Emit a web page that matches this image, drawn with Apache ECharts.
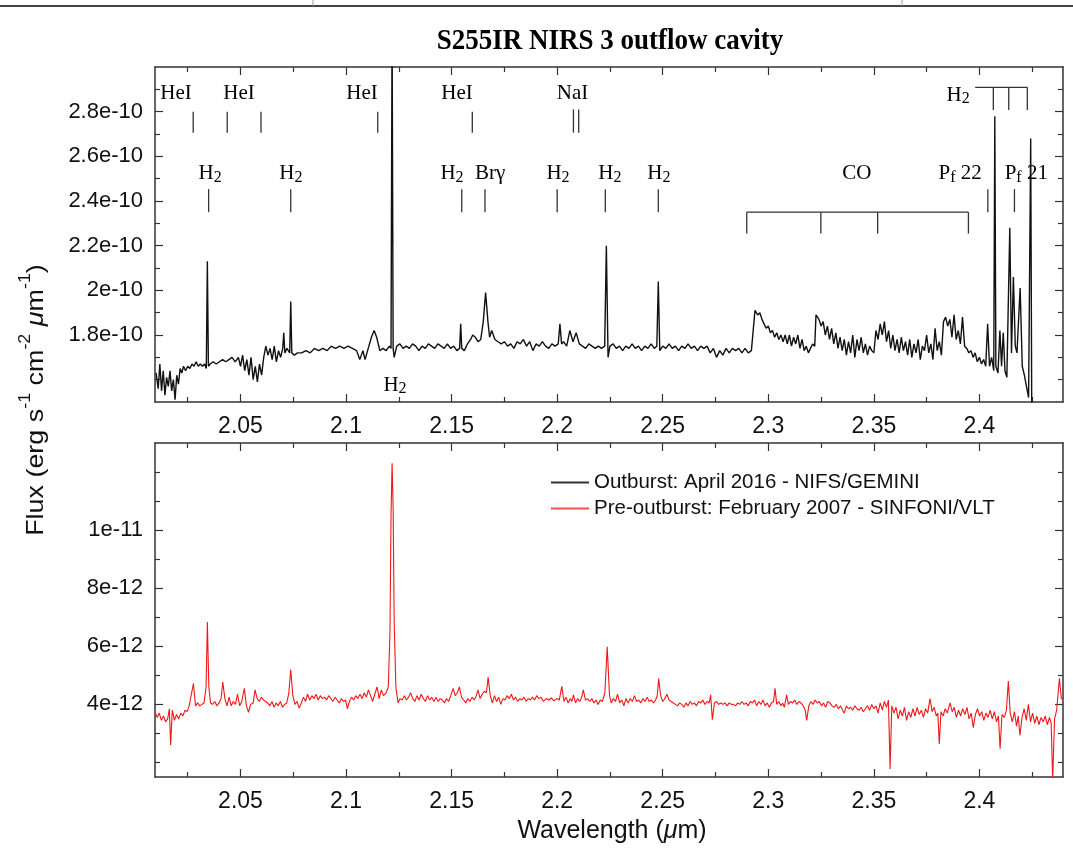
<!DOCTYPE html>
<html><head><meta charset="utf-8">
<script src="https://cdn.jsdelivr.net/npm/echarts@6/dist/echarts.min.js"></script>
<style>html,body{margin:0;padding:0;background:#fff}#c{width:1073px;height:860px}</style>
</head><body><div id="c"></div><script>
// ---------- axis ticks / labels ----------
const xMajor = [2.05, 2.1, 2.15, 2.2, 2.25, 2.3, 2.35, 2.4];
const xMinor = [2.025, 2.075, 2.125, 2.175, 2.225, 2.275, 2.325, 2.375, 2.425];
const topYMajor = [1.8, 2.0, 2.2, 2.4, 2.6, 2.8];            // ×1e-10
const topYMinor = [1.6, 1.7, 1.9, 2.1, 2.3, 2.5, 2.7, 2.9];
const botYMajor = [4, 6, 8, 10];                               // ×1e-12
const botYMinor = [2, 3, 5, 7, 9, 11, 12];

// ---------- spectra ----------
// Outburst, April 2016 (NIFS/GEMINI): [wavelength µm, flux ×1e-10]
const outburst = [
[2.0100,1.63],[2.0110,1.56],[2.0118,1.67],[2.0126,1.55],[2.0134,1.64],[2.0142,1.53],[2.0150,1.61],[2.0158,1.57],[2.0166,1.64],[2.0174,1.55],
[2.0182,1.60],[2.0190,1.51],[2.0198,1.62],[2.0206,1.58],[2.0214,1.65],[2.0222,1.63],[2.0230,1.66],[2.0240,1.64],[2.0250,1.66],[2.0260,1.65],
[2.0270,1.67],[2.0280,1.66],[2.0290,1.68],[2.0300,1.66],[2.0310,1.67],[2.0320,1.66],[2.0330,1.67],[2.0338,1.65],[2.0343,2.13],[2.0348,1.66],
[2.0356,1.67],[2.0370,1.68],[2.0385,1.67],[2.0400,1.68],[2.0415,1.69],[2.0430,1.68],[2.0445,1.69],[2.0460,1.70],[2.0475,1.68],[2.0490,1.70],
[2.0500,1.66],[2.0510,1.71],[2.0520,1.64],[2.0530,1.69],[2.0540,1.62],[2.0550,1.70],[2.0560,1.60],[2.0570,1.66],[2.0580,1.59],[2.0590,1.67],
[2.0600,1.62],[2.0610,1.70],[2.0620,1.75],[2.0630,1.71],[2.0640,1.74],[2.0650,1.69],[2.0660,1.75],[2.0670,1.68],[2.0680,1.73],[2.0690,1.70],
[2.0700,1.74],[2.0705,1.81],[2.0710,1.72],[2.0720,1.74],[2.0733,1.72],[2.0738,1.95],[2.0743,1.72],[2.0755,1.71],[2.0770,1.72],[2.0790,1.72],
[2.0810,1.73],[2.0830,1.72],[2.0850,1.74],[2.0870,1.73],[2.0890,1.74],[2.0910,1.73],[2.0930,1.75],[2.0950,1.74],[2.0970,1.75],[2.0990,1.74],
[2.1010,1.75],[2.1030,1.74],[2.1050,1.73],[2.1065,1.69],[2.1080,1.73],[2.1090,1.69],[2.1105,1.74],[2.1120,1.79],[2.1133,1.82],[2.1145,1.79],
[2.1160,1.73],[2.1175,1.74],[2.1190,1.73],[2.1205,1.75],[2.1213,1.74],[2.1218,3.20],[2.1223,1.74],[2.1228,1.70],[2.1240,1.75],[2.1255,1.76],
[2.1270,1.74],[2.1285,1.75],[2.1300,1.74],[2.1315,1.76],[2.1330,1.75],[2.1345,1.73],[2.1360,1.75],[2.1375,1.74],[2.1390,1.76],[2.1405,1.75],
[2.1420,1.74],[2.1435,1.76],[2.1450,1.75],[2.1465,1.74],[2.1480,1.76],[2.1495,1.74],[2.1510,1.75],[2.1525,1.73],[2.1538,1.74],[2.1543,1.85],
[2.1548,1.74],[2.1560,1.73],[2.1575,1.76],[2.1590,1.78],[2.1600,1.80],[2.1612,1.79],[2.1625,1.77],[2.1638,1.78],[2.1650,1.86],[2.1661,1.99],
[2.1672,1.86],[2.1680,1.79],[2.1690,1.82],[2.1705,1.78],[2.1720,1.77],[2.1735,1.76],[2.1750,1.77],[2.1765,1.75],[2.1780,1.76],[2.1795,1.74],
[2.1810,1.77],[2.1825,1.76],[2.1840,1.78],[2.1855,1.75],[2.1870,1.77],[2.1885,1.73],[2.1900,1.76],[2.1915,1.75],[2.1930,1.77],[2.1945,1.75],
[2.1960,1.74],[2.1975,1.76],[2.1990,1.75],[2.2005,1.76],[2.2013,1.85],[2.2021,1.76],[2.2030,1.77],[2.2045,1.75],[2.2060,1.82],[2.2075,1.77],
[2.2090,1.81],[2.2105,1.76],[2.2120,1.75],[2.2135,1.74],[2.2150,1.76],[2.2165,1.75],[2.2180,1.74],[2.2195,1.75],[2.2210,1.74],[2.2225,1.75],
[2.2233,2.20],[2.2241,1.70],[2.2250,1.75],[2.2265,1.76],[2.2280,1.74],[2.2295,1.75],[2.2310,1.73],[2.2325,1.75],[2.2340,1.74],[2.2355,1.76],
[2.2370,1.74],[2.2385,1.75],[2.2400,1.73],[2.2415,1.75],[2.2430,1.74],[2.2445,1.76],[2.2460,1.74],[2.2472,1.75],[2.2479,2.04],[2.2486,1.73],
[2.2500,1.75],[2.2515,1.74],[2.2530,1.76],[2.2545,1.74],[2.2560,1.75],[2.2575,1.73],[2.2590,1.75],[2.2605,1.74],[2.2620,1.76],[2.2635,1.74],
[2.2650,1.75],[2.2665,1.73],[2.2680,1.75],[2.2695,1.74],[2.2710,1.75],[2.2725,1.72],[2.2740,1.74],[2.2755,1.70],[2.2770,1.73],[2.2785,1.71],
[2.2800,1.74],[2.2815,1.72],[2.2830,1.74],[2.2845,1.73],[2.2860,1.74],[2.2875,1.72],[2.2890,1.74],[2.2905,1.72],[2.2920,1.73],[2.2937,1.91],
[2.2950,1.89],[2.2960,1.90],[2.2970,1.87],[2.2980,1.85],[2.2990,1.83],[2.3000,1.84],[2.3010,1.81],[2.3020,1.82],[2.3030,1.79],[2.3040,1.81],
[2.3050,1.78],[2.3060,1.80],[2.3070,1.77],[2.3080,1.80],[2.3090,1.76],[2.3100,1.80],[2.3110,1.75],[2.3120,1.79],[2.3130,1.76],[2.3140,1.80],
[2.3150,1.74],[2.3160,1.78],[2.3170,1.73],[2.3180,1.75],[2.3190,1.72],[2.3200,1.74],[2.3210,1.76],[2.3220,1.75],[2.3226,1.89],[2.3240,1.87],
[2.3250,1.84],[2.3260,1.86],[2.3270,1.80],[2.3280,1.84],[2.3290,1.78],[2.3300,1.83],[2.3310,1.76],[2.3320,1.81],[2.3330,1.74],[2.3340,1.79],
[2.3350,1.73],[2.3360,1.78],[2.3370,1.71],[2.3380,1.77],[2.3390,1.72],[2.3400,1.80],[2.3410,1.70],[2.3420,1.78],[2.3430,1.73],[2.3440,1.79],
[2.3450,1.72],[2.3460,1.76],[2.3470,1.71],[2.3480,1.75],[2.3490,1.73],[2.3500,1.72],[2.3510,1.82],[2.3520,1.78],[2.3530,1.85],[2.3540,1.80],
[2.3550,1.86],[2.3560,1.77],[2.3570,1.82],[2.3580,1.74],[2.3590,1.80],[2.3600,1.73],[2.3610,1.78],[2.3620,1.72],[2.3630,1.79],[2.3640,1.73],
[2.3650,1.77],[2.3660,1.71],[2.3670,1.78],[2.3680,1.70],[2.3690,1.76],[2.3700,1.72],[2.3710,1.78],[2.3720,1.69],[2.3730,1.75],[2.3740,1.73],
[2.3750,1.80],[2.3760,1.72],[2.3770,1.76],[2.3780,1.69],[2.3790,1.83],[2.3800,1.73],[2.3810,1.77],[2.3820,1.71],[2.3830,1.86],[2.3840,1.88],
[2.3850,1.84],[2.3860,1.87],[2.3870,1.79],[2.3880,1.89],[2.3890,1.78],[2.3900,1.82],[2.3910,1.76],[2.3920,1.88],[2.3930,1.75],[2.3940,1.74],
[2.3950,1.72],[2.3960,1.73],[2.3970,1.70],[2.3980,1.72],[2.3990,1.68],[2.4000,1.70],[2.4010,1.67],[2.4020,1.69],[2.4030,1.66],[2.4039,1.85],
[2.4048,1.66],[2.4058,1.70],[2.4068,1.64],[2.4073,2.78],[2.4078,1.66],[2.4088,1.63],[2.4097,1.82],[2.4105,1.66],[2.4113,1.81],[2.4121,1.64],
[2.4130,1.61],[2.4144,2.28],[2.4152,1.72],[2.4161,2.06],[2.4170,1.75],[2.4178,1.72],[2.4193,2.01],[2.4203,1.66],[2.4213,1.62],[2.4223,1.57],
[2.4233,1.52],[2.4243,2.68],[2.4248,1.45]
];
// Pre-outburst, February 2007 (SINFONI/VLT): [wavelength µm, flux ×1e-12]
const preOutburst = [
[2.0095,3.75],[2.0105,3.55],[2.0115,3.70],[2.0125,3.45],[2.0135,3.60],[2.0145,3.40],[2.0155,3.50],[2.0163,3.85],[2.0169,2.60],[2.0177,3.80],
[2.0187,3.45],[2.0197,3.65],[2.0207,3.50],[2.0217,3.70],[2.0227,3.60],[2.0237,3.80],[2.0247,3.75],[2.0257,3.95],[2.0265,3.90],[2.0277,4.72],
[2.0287,3.95],[2.0297,4.05],[2.0307,3.95],[2.0317,4.00],[2.0327,4.05],[2.0337,4.60],[2.0343,6.84],[2.0350,4.60],[2.0358,4.05],[2.0368,4.00],
[2.0378,4.10],[2.0388,3.95],[2.0398,4.05],[2.0408,4.20],[2.0416,4.77],[2.0426,4.20],[2.0436,3.95],[2.0446,4.25],[2.0456,3.95],[2.0466,4.10],
[2.0476,4.00],[2.0486,4.35],[2.0496,3.95],[2.0506,4.10],[2.0518,4.55],[2.0528,3.95],[2.0538,3.73],[2.0548,4.00],[2.0560,4.05],[2.0569,4.50],
[2.0579,4.20],[2.0589,4.10],[2.0599,4.25],[2.0609,4.15],[2.0619,4.10],[2.0629,4.05],[2.0639,3.95],[2.0649,4.10],[2.0659,3.90],[2.0669,4.05],
[2.0679,3.95],[2.0689,4.10],[2.0699,3.90],[2.0709,4.00],[2.0719,4.05],[2.0729,4.40],[2.0738,5.20],[2.0748,4.30],[2.0758,4.00],[2.0768,4.10],
[2.0778,3.87],[2.0788,4.05],[2.0798,4.25],[2.0808,4.10],[2.0818,4.35],[2.0828,4.15],[2.0838,4.30],[2.0848,4.20],[2.0858,4.35],[2.0868,4.15],
[2.0878,4.30],[2.0888,4.20],[2.0898,4.25],[2.0908,4.15],[2.0918,4.30],[2.0928,4.20],[2.0938,4.10],[2.0948,4.25],[2.0958,4.15],[2.0968,4.05],
[2.0978,4.20],[2.0988,4.10],[2.0998,4.15],[2.1006,3.85],[2.1016,4.10],[2.1026,4.25],[2.1036,4.15],[2.1046,4.30],[2.1056,4.20],[2.1066,4.35],
[2.1076,4.20],[2.1086,4.40],[2.1096,4.25],[2.1106,4.50],[2.1116,4.30],[2.1126,4.10],[2.1136,4.35],[2.1147,4.60],[2.1157,4.20],[2.1167,4.50],
[2.1177,4.30],[2.1190,4.40],[2.1200,4.60],[2.1208,6.50],[2.1213,10.5],[2.1218,12.3],[2.1223,10.8],[2.1228,6.80],[2.1236,4.60],[2.1246,4.05],
[2.1256,4.20],[2.1266,4.15],[2.1276,4.30],[2.1286,4.15],[2.1296,4.25],[2.1306,4.40],[2.1316,4.20],[2.1326,4.10],[2.1336,4.30],[2.1346,4.15],
[2.1356,4.35],[2.1366,4.20],[2.1376,4.10],[2.1386,4.30],[2.1396,4.15],[2.1406,4.25],[2.1416,4.10],[2.1426,4.25],[2.1436,4.10],[2.1446,4.20],
[2.1456,4.15],[2.1466,4.05],[2.1476,4.20],[2.1486,4.10],[2.1496,4.30],[2.1507,4.55],[2.1517,4.30],[2.1527,4.40],[2.1537,4.60],[2.1547,4.25],
[2.1557,4.15],[2.1567,4.05],[2.1577,4.20],[2.1587,4.10],[2.1597,4.25],[2.1607,4.15],[2.1617,4.30],[2.1625,4.50],[2.1635,4.20],[2.1645,4.35],
[2.1655,4.45],[2.1665,4.40],[2.1673,4.93],[2.1683,4.30],[2.1693,4.05],[2.1703,4.30],[2.1713,4.10],[2.1723,4.25],[2.1733,4.00],[2.1743,4.20],
[2.1753,4.15],[2.1763,4.30],[2.1773,4.20],[2.1783,4.35],[2.1793,4.15],[2.1803,4.25],[2.1813,4.10],[2.1823,4.20],[2.1833,4.15],[2.1843,4.25],
[2.1853,4.10],[2.1863,4.20],[2.1873,4.15],[2.1883,4.25],[2.1893,4.15],[2.1903,4.30],[2.1913,4.20],[2.1923,4.25],[2.1935,4.10],[2.1948,4.20],
[2.1960,4.15],[2.1972,4.22],[2.1985,4.12],[2.1998,4.20],[2.2010,4.15],[2.2022,4.62],[2.2032,4.10],[2.2042,4.25],[2.2052,4.05],[2.2062,4.20],
[2.2070,4.10],[2.2077,4.33],[2.2087,4.05],[2.2097,4.20],[2.2107,4.10],[2.2116,4.25],[2.2124,4.50],[2.2134,4.15],[2.2144,4.20],[2.2154,4.10],
[2.2164,4.20],[2.2174,4.05],[2.2184,4.15],[2.2194,4.00],[2.2204,4.15],[2.2214,4.10],[2.2226,4.40],[2.2237,5.98],[2.2248,4.30],[2.2256,4.05],
[2.2266,4.20],[2.2276,4.10],[2.2286,4.35],[2.2296,4.05],[2.2306,4.15],[2.2316,3.95],[2.2326,4.20],[2.2336,4.05],[2.2346,4.20],[2.2356,4.10],
[2.2366,4.30],[2.2376,4.10],[2.2386,4.15],[2.2396,4.05],[2.2406,4.20],[2.2416,4.10],[2.2426,4.25],[2.2436,4.10],[2.2446,4.15],[2.2456,4.05],
[2.2466,4.15],[2.2474,4.30],[2.2481,4.89],[2.2490,4.30],[2.2500,4.10],[2.2510,4.20],[2.2520,4.35],[2.2530,4.15],[2.2540,4.10],[2.2550,4.05],
[2.2560,4.00],[2.2570,3.95],[2.2580,4.05],[2.2590,4.00],[2.2600,3.90],[2.2610,4.05],[2.2620,3.95],[2.2630,4.10],[2.2640,4.00],[2.2650,4.05],
[2.2660,3.95],[2.2670,4.10],[2.2680,4.05],[2.2690,4.15],[2.2700,4.00],[2.2710,4.10],[2.2720,4.05],[2.2727,4.33],[2.2735,3.47],[2.2745,4.05],
[2.2755,4.10],[2.2765,4.00],[2.2775,4.05],[2.2785,4.00],[2.2795,4.05],[2.2805,3.95],[2.2815,4.05],[2.2825,4.00],[2.2835,4.00],[2.2845,3.95],
[2.2855,4.05],[2.2865,4.00],[2.2875,4.10],[2.2885,4.00],[2.2895,4.05],[2.2905,3.95],[2.2915,4.10],[2.2925,4.05],[2.2935,4.15],[2.2945,3.95],
[2.2955,4.10],[2.2965,4.00],[2.2975,4.15],[2.2985,3.95],[2.2995,4.05],[2.3005,3.90],[2.3015,4.05],[2.3025,4.10],[2.3032,4.55],[2.3040,4.00],
[2.3050,4.10],[2.3060,3.95],[2.3068,4.05],[2.3076,3.90],[2.3087,4.33],[2.3095,4.00],[2.3105,4.10],[2.3115,4.05],[2.3125,4.15],[2.3135,4.00],
[2.3145,4.10],[2.3155,4.05],[2.3165,3.95],[2.3175,3.80],[2.3182,3.45],[2.3192,3.95],[2.3202,4.10],[2.3212,4.00],[2.3222,4.15],[2.3232,4.05],
[2.3242,4.10],[2.3252,3.95],[2.3262,4.05],[2.3272,3.90],[2.3282,4.10],[2.3292,4.05],[2.3302,3.95],[2.3312,3.90],[2.3322,4.00],[2.3332,3.85],
[2.3342,3.95],[2.3352,3.80],[2.3360,3.70],[2.3370,3.95],[2.3380,3.85],[2.3390,3.90],[2.3400,3.80],[2.3410,3.95],[2.3420,3.85],[2.3430,3.80],
[2.3440,3.90],[2.3450,3.75],[2.3460,3.85],[2.3470,3.95],[2.3480,3.80],[2.3490,4.00],[2.3500,3.85],[2.3510,3.95],[2.3520,3.70],[2.3530,4.05],
[2.3540,3.80],[2.3550,4.10],[2.3560,3.90],[2.3569,4.15],[2.3577,1.78],[2.3585,3.95],[2.3595,3.70],[2.3605,3.90],[2.3615,3.50],[2.3625,3.80],
[2.3635,3.60],[2.3645,3.90],[2.3655,3.45],[2.3665,3.75],[2.3675,3.55],[2.3685,3.85],[2.3695,3.60],[2.3705,3.90],[2.3715,3.65],[2.3725,3.80],
[2.3735,3.55],[2.3745,3.85],[2.3755,3.70],[2.3766,4.20],[2.3776,3.75],[2.3786,3.90],[2.3796,3.60],[2.3803,3.70],[2.3810,2.64],[2.3818,3.75],
[2.3828,3.60],[2.3838,3.85],[2.3848,3.70],[2.3861,4.05],[2.3871,3.75],[2.3881,3.90],[2.3891,3.55],[2.3901,3.80],[2.3911,3.60],[2.3921,3.85],
[2.3931,3.65],[2.3941,3.90],[2.3951,3.50],[2.3961,3.70],[2.3971,3.20],[2.3981,3.65],[2.3991,3.85],[2.4001,3.60],[2.4011,3.75],[2.4021,3.45],
[2.4031,3.70],[2.4041,3.55],[2.4051,3.80],[2.4061,3.50],[2.4071,3.75],[2.4081,3.40],[2.4090,3.60],[2.4098,2.47],[2.4107,3.65],[2.4118,3.55],
[2.4128,3.80],[2.4137,4.80],[2.4146,3.70],[2.4156,3.40],[2.4166,3.75],[2.4176,3.25],[2.4184,3.60],[2.4192,2.93],[2.4202,3.55],[2.4212,3.85],
[2.4222,3.45],[2.4232,4.00],[2.4242,3.40],[2.4252,3.70],[2.4262,3.35],[2.4272,3.60],[2.4282,3.30],[2.4292,3.55],[2.4302,3.40],[2.4312,3.60],
[2.4322,3.30],[2.4332,3.55],[2.4340,3.35],[2.4347,1.40],[2.4356,3.50],[2.4366,3.80],[2.4379,4.90],[2.4388,4.20],[2.4398,4.20]
];

// ---------- line identifications (top panel, ×1e-10 units) ----------
// vertical markers: [wavelength, yFrom, yTo]
const markerTicks = [
[2.0276,2.80,2.706],[2.0437,2.80,2.706],[2.0597,2.80,2.706],[2.1150,2.80,2.706],[2.1598,2.80,2.706],
[2.2077,2.81,2.706],[2.2102,2.81,2.706],
[2.0349,2.453,2.350],[2.0738,2.453,2.350],[2.1548,2.453,2.350],[2.1658,2.453,2.350],[2.2000,2.453,2.350],
[2.2228,2.453,2.350],[2.2479,2.453,2.350],[2.4040,2.453,2.350],[2.4166,2.453,2.350],
[2.2898,2.350,2.254],[2.3249,2.350,2.254],[2.3518,2.350,2.254],[2.3948,2.350,2.254],
[2.4066,2.909,2.807],[2.4139,2.909,2.807],[2.4227,2.909,2.807]
];
// horizontal brackets: [wavelengthFrom, wavelengthTo, y]
const brackets = [[2.2898,2.3948,2.350],[2.3980,2.4227,2.909]];
// labels: [wavelength, y, text]
const lineLabels = [
[2.0195,2.883,'{n|HeI}'],[2.0493,2.883,'{n|HeI}'],[2.1076,2.883,'{n|HeI}'],[2.1526,2.883,'{n|HeI}'],[2.2073,2.883,'{n|NaI}'],
[2.0356,2.521,'{n|H}{s|2}'],[2.0739,2.521,'{n|H}{s|2}'],[2.1502,2.521,'{n|H}{s|2}'],[2.1682,2.521,'{n|Brγ}'],
[2.2004,2.521,'{n|H}{s|2}'],[2.2250,2.521,'{n|H}{s|2}'],[2.2482,2.521,'{n|H}{s|2}'],[2.3420,2.521,'{n|CO}'],
[2.3909,2.521,'{n|P}{s|f}{n| 22}'],[2.4222,2.521,'{n|P}{s|f}{n| 21}'],
[2.3899,2.874,'{n|H}{s|2}'],[2.1232,1.575,'{n|H}{s|2}']
];

const seriesNames = ['Outburst: April 2016 - NIFS/GEMINI', 'Pre-outburst: February 2007 - SINFONI/VLT'];

// ---------- chart ----------
const chart = echarts.init(document.getElementById('c'), null, {renderer: 'canvas'});
const AX = '#333', TXT = '#111';
const SANS = '"Liberation Sans", Arial, sans-serif';
const SERIF = '"Liberation Serif", "Times New Roman", serif';
const fmt = (v, u) => Number((v * u).toPrecision(3)).toExponential();

const grids = [
  {left: 155, width: 908, top: 67, height: 335},
  {left: 155, width: 908, top: 443, height: 334}
];
const xRange = {min: 2.0095, max: 2.4396};
const yRanges = [{min: 1.5, max: 3.0, major: topYMajor, minor: topYMinor, unit: 1e-10},
                 {min: 1.5, max: 13.0, major: botYMajor, minor: botYMinor, unit: 1e-12}];

const xAxes = [], yAxes = [];
grids.forEach((g, gi) => {
  ['bottom', 'top'].forEach(pos => {
    xAxes.push({type: 'value', gridIndex: gi, position: pos, min: xRange.min, max: xRange.max,
      axisLine: {show: true, onZero: false, lineStyle: {color: AX, width: 1.5}},
      axisTick: {show: true, inside: true, length: 8, customValues: xMajor, lineStyle: {color: AX, width: 1.2}},
      axisLabel: pos === 'bottom' ? {show: true, customValues: xMajor, margin: 13, color: TXT,
        fontFamily: SANS, fontSize: 23, formatter: v => String(+v.toFixed(2))} : {show: false},
      splitLine: {show: false}});
    xAxes.push({type: 'value', gridIndex: gi, position: pos, min: xRange.min, max: xRange.max,
      axisLine: {show: false, onZero: false},
      axisTick: {show: true, inside: true, length: 5, customValues: xMinor, lineStyle: {color: AX, width: 1.2}},
      axisLabel: {show: false}, splitLine: {show: false}});
  });
  const yr = yRanges[gi];
  ['left', 'right'].forEach(pos => {
    yAxes.push({type: 'value', gridIndex: gi, position: pos, min: yr.min, max: yr.max,
      axisLine: {show: true, onZero: false, lineStyle: {color: AX, width: 1.5}},
      axisTick: {show: true, inside: true, length: 8, customValues: yr.major, lineStyle: {color: AX, width: 1.2}},
      axisLabel: pos === 'left' ? {show: true, customValues: yr.major, margin: 12, color: TXT,
        fontFamily: SANS, fontSize: 22, formatter: v => fmt(v, yr.unit)} : {show: false},
      splitLine: {show: false}});
    yAxes.push({type: 'value', gridIndex: gi, position: pos, min: yr.min, max: yr.max,
      axisLine: {show: false, onZero: false},
      axisTick: {show: true, inside: true, length: 5, customValues: yr.minor, lineStyle: {color: AX, width: 1.2}},
      axisLabel: {show: false}, splitLine: {show: false}});
  });
});

const richLabel = {
  n: {fontFamily: SERIF, fontSize: 21, lineHeight: 24, color: TXT},
  s: {fontFamily: SERIF, fontSize: 16, lineHeight: 4, verticalAlign: 'bottom', color: TXT}
};

const option = {
  animation: false,
  backgroundColor: '#fff',
  grid: grids,
  xAxis: xAxes,
  yAxis: yAxes,
  legend: {
    orient: 'vertical', left: 546, top: 467, itemWidth: 38, itemHeight: 2, itemGap: 5, icon: 'rect',
    textStyle: {fontFamily: SANS, fontSize: 20.5, color: TXT, lineHeight: 20},
    data: seriesNames
  },
  graphic: [
    {type: 'line', shape: {x1: 0, y1: 6, x2: 1073, y2: 6}, style: {stroke: '#444', lineWidth: 2}},
    {type: 'line', shape: {x1: 313, y1: 0, x2: 313, y2: 6}, style: {stroke: '#999', lineWidth: 1}},
    {type: 'line', shape: {x1: 902, y1: 0, x2: 902, y2: 6}, style: {stroke: '#999', lineWidth: 1}},
    {type: 'text', x: 610, y: 41, scaleY: 1.1, style: {text: 'S255IR NIRS 3 outflow cavity', align: 'center', verticalAlign: 'middle',
      fontFamily: SERIF, fontWeight: 'bold', fontSize: 27, fill: '#000'}},
    {type: 'text', x: 612, y: 831, style: {text: '{a|Wavelength (}{i|μ}{a|m)}', align: 'center', verticalAlign: 'middle',
      rich: {a: {fontFamily: SANS, fontSize: 25, fill: TXT}, i: {fontFamily: SANS, fontSize: 25, fontStyle: 'italic', fill: TXT}}}},
    {type: 'text', x: 36, y: 400, rotation: Math.PI / 2, scaleX: 1.12, style: {
      text: '{a|Flux (erg s}{u|-1}{a| cm}{u|-2}{i| μ}{a|m}{u|-1}{a|)}', align: 'center', verticalAlign: 'middle',
      rich: {a: {fontFamily: SANS, fontSize: 24, lineHeight: 28, fill: TXT},
             i: {fontFamily: SANS, fontSize: 24, lineHeight: 28, fontStyle: 'italic', fill: TXT},
             u: {fontFamily: SANS, fontSize: 16, lineHeight: 36, verticalAlign: 'top', fill: TXT}}}}
  ],
  series: [
    {name: seriesNames[0], type: 'line', xAxisIndex: 0, yAxisIndex: 0, data: outburst, symbol: 'none', clip: true,
      lineStyle: {color: '#111', width: 1.4}, itemStyle: {color: '#333'}},
    {name: seriesNames[1], type: 'line', xAxisIndex: 4, yAxisIndex: 4, data: preOutburst, symbol: 'none', clip: true,
      lineStyle: {color: '#f01818', width: 1.1}, itemStyle: {color: '#f25050'}},
    {type: 'custom', xAxisIndex: 0, yAxisIndex: 0, data: markerTicks, silent: true,
      renderItem: (p, api) => {
        const a = api.coord([api.value(0), api.value(1)]), b = api.coord([api.value(0), api.value(2)]);
        return {type: 'line', shape: {x1: a[0], y1: a[1], x2: b[0], y2: b[1]}, style: {stroke: '#333', lineWidth: 1.3}};
      }},
    {type: 'custom', xAxisIndex: 0, yAxisIndex: 0, data: brackets, silent: true,
      renderItem: (p, api) => {
        const a = api.coord([api.value(0), api.value(2)]), b = api.coord([api.value(1), api.value(2)]);
        return {type: 'line', shape: {x1: a[0], y1: a[1], x2: b[0], y2: b[1]}, style: {stroke: '#333', lineWidth: 1.3}};
      }},
    {type: 'custom', xAxisIndex: 0, yAxisIndex: 0, data: lineLabels.map(d => [d[0], d[1]]), silent: true,
      renderItem: (p, api) => {
        const c = api.coord([api.value(0), api.value(1)]);
        return {type: 'text', x: c[0], y: c[1], style: {text: lineLabels[p.dataIndex][2], rich: richLabel,
          align: 'center', verticalAlign: 'middle'}};
      }}
  ]
};
chart.setOption(option);
</script></body></html>
